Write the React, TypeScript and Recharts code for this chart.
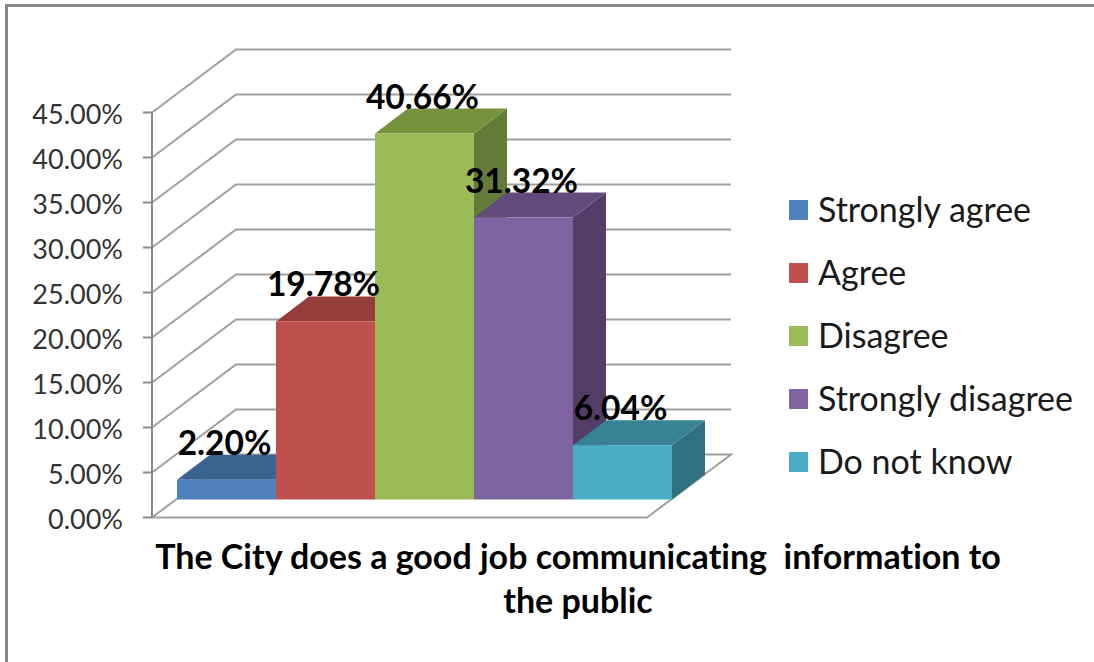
import { Bar, BarChart, CartesianGrid, LabelList, XAxis, YAxis } from 'recharts'

const categories = ['Strongly agree', 'Agree', 'Disagree', 'Strongly disagree', 'Do not know']
const shares = [2.2, 19.78, 40.66, 31.32, 6.04]
const yTicks = [0, 5, 10, 15, 20, 25, 30, 35, 40, 45]
const titleLines = ['The City does a good job communicating  information to', 'the public']

const frontColors = ['#4f81bd', '#c0504d', '#9bbb59', '#8064a2', '#4bacc6']
const topColors = ['#3c6291', '#953d3a', '#76923c', '#624a7a', '#388296']
const sideColors = ['#325278', '#7d3331', '#647a38', '#533d66', '#31707f']

const FONT = 'Lato, sans-serif'
const GRID = '#a0a0a0'
const AXIS = '#8a8a8a'

// Projection of the fake 3D view: the walls recede by WALL_*, the bars stand
// part of the way into the floor and have their own depth.
const WALL_X = 84
const WALL_Y = 63
const BAR_SHIFT_X = 25
const BAR_SHIFT_Y = 18
const BAR_DEPTH_X = 33
const BAR_DEPTH_Y = 25

const data = categories.map((name, i) => ({ name, share: shares[i] }))

function WallLine({ x1, x2, y1 }: any) {
  const back = y1 - WALL_Y
  let points = `${x1},${y1} ${x1 + WALL_X},${back} ${x2 + WALL_X},${back}`
  // the zero line also closes the floor
  if (y1 > 500) points += ` ${x2},${y1} ${x1},${y1}`
  return <polyline points={points} fill="none" stroke={GRID} strokeWidth={2} />
}

function Box({ x, y, width, height, index }: any) {
  const left = x + BAR_SHIFT_X
  const right = left + width
  const top = y - BAR_SHIFT_Y
  const bottom = top + height
  const dx = BAR_DEPTH_X
  const dy = BAR_DEPTH_Y
  return (
    <g>
      <polygon
        points={`${right},${top} ${right + dx},${top - dy} ${right + dx},${bottom - dy} ${right},${bottom}`}
        fill={sideColors[index]}
      />
      <polygon
        points={`${left},${top} ${left + dx},${top - dy} ${right + dx},${top - dy} ${right},${top}`}
        fill={topColors[index]}
      />
      <rect x={left} y={top} width={width} height={height} fill={frontColors[index]} />
    </g>
  )
}

function ValueLabel({ x, y, width, value }: any) {
  return (
    <text
      x={x + BAR_SHIFT_X + width / 2 - 2}
      y={y - BAR_SHIFT_Y - 25}
      textAnchor="middle"
      fontFamily={FONT}
      fontWeight={700}
      fontSize={33.5}
      fill="#000"
    >
      {Number(value).toFixed(2)}%
    </text>
  )
}

function LegendRow({ color, label }: { color: string; label: string }) {
  return (
    <div style={{ display: 'flex', alignItems: 'center', height: 63 }}>
      <span style={{ width: 19, height: 20, background: color, marginRight: 10 }} />
      <span style={{ position: 'relative', top: -1 }}>{label}</span>
    </div>
  )
}

export default function App() {
  return (
    <div
      style={{
        position: 'absolute',
        left: 0,
        top: 0,
        width: 1094,
        height: 662,
        overflow: 'hidden',
        background: '#fff',
        fontFamily: FONT,
        fontVariantLigatures: 'none',
      }}
    >
      <div
        style={{
          position: 'absolute',
          left: 5,
          top: 4,
          width: 1089,
          height: 658,
          boxSizing: 'border-box',
          borderTop: '3px solid #868686',
          borderLeft: '3px solid #868686',
        }}
      />
      <div style={{ position: 'absolute', left: 0, top: 0 }}>
        <BarChart
          width={1094}
          height={662}
          data={data}
          barCategoryGap={0}
          margin={{ top: 112.5, right: 447, bottom: 144.5, left: 0 }}
        >
          <CartesianGrid vertical={false} horizontal={WallLine} />
          <XAxis dataKey="name" hide />
          <YAxis
            width={152}
            domain={[0, 45]}
            ticks={yTicks}
            interval={0}
            tickSize={9}
            tickMargin={20}
            axisLine={{ stroke: AXIS, strokeWidth: 2 }}
            tickLine={{ stroke: AXIS, strokeWidth: 2 }}
            tick={{ fontSize: 27, fontFamily: FONT, fill: '#333', dy: 2 }}
            tickFormatter={(v: number) => `${v.toFixed(2)}%`}
          />
          <Bar dataKey="share" shape={Box} isAnimationActive={false}>
            <LabelList dataKey="share" content={ValueLabel} />
          </Bar>
        </BarChart>
      </div>
      <div style={{ position: 'absolute', left: 789, top: 178, fontSize: 34, color: '#1a1a1a' }}>
        {categories.map((c, i) => (
          <LegendRow key={c} color={frontColors[i]} label={c} />
        ))}
      </div>
      <div
        style={{
          position: 'absolute',
          left: 128,
          width: 900,
          top: 534,
          textAlign: 'center',
          fontSize: 34,
          fontWeight: 700,
          lineHeight: '44px',
          color: '#000',
          whiteSpace: 'pre',
        }}
      >
        {titleLines.map((t) => (
          <div key={t}>{t}</div>
        ))}
      </div>
    </div>
  )
}
